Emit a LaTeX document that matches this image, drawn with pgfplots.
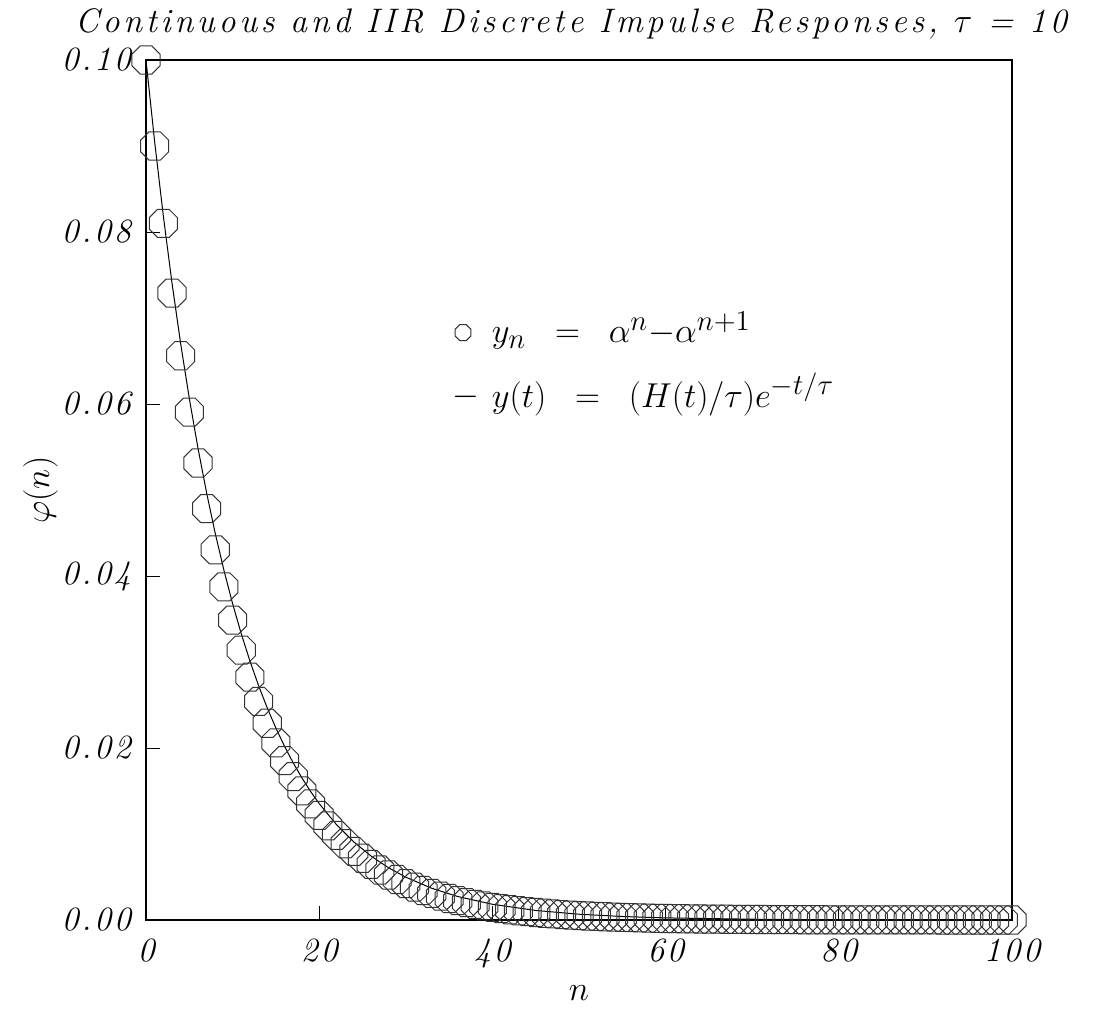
\documentclass[border=0pt]{standalone}
\usepackage{fontspec}
\setmainfont{Latin Modern Roman}
\newfontfamily\tickfont{Latin Modern Roman}[LetterSpace=8]
\newfontfamily\titlefont{Latin Modern Roman}[LetterSpace=11]
\usepackage{pgfplots}
\pgfplotsset{compat=1.18}
\pgfdeclareplotmark{oct}{%
  \pgfpathmoveto{\pgfpointpolar{22.5}{\pgfplotmarksize}}%
  \pgfpathlineto{\pgfpointpolar{67.5}{\pgfplotmarksize}}%
  \pgfpathlineto{\pgfpointpolar{112.5}{\pgfplotmarksize}}%
  \pgfpathlineto{\pgfpointpolar{157.5}{\pgfplotmarksize}}%
  \pgfpathlineto{\pgfpointpolar{202.5}{\pgfplotmarksize}}%
  \pgfpathlineto{\pgfpointpolar{247.5}{\pgfplotmarksize}}%
  \pgfpathlineto{\pgfpointpolar{292.5}{\pgfplotmarksize}}%
  \pgfpathlineto{\pgfpointpolar{337.5}{\pgfplotmarksize}}%
  \pgfpathclose\pgfusepathqstroke}
\pgfplotstableread{
n y
0 0.1
1 0.09
2 0.081
3 0.0729
4 0.06561
5 0.059049
6 0.0531441
7 0.04782969
8 0.043046721
9 0.0387420489
10 0.03486784
11 0.03138106
12 0.02824295
13 0.02541866
14 0.02287679
15 0.02058911
16 0.01853020
17 0.01667718
18 0.01500946
19 0.01350852
20 0.01215767
21 0.01094190
22 0.00984771
23 0.00886294
24 0.00797664
25 0.00717898
26 0.00646108
27 0.00581497
28 0.00523348
29 0.00471013
30 0.00423912
31 0.00381520
32 0.00343368
33 0.00309032
34 0.00278128
35 0.00250316
36 0.00225284
37 0.00202756
38 0.00182480
39 0.00164232
40 0.00147809
41 0.00133028
42 0.00119725
43 0.00107753
44 0.00096977
45 0.00087280
46 0.00078552
47 0.00070697
48 0.00063627
49 0.00057264
50 0.00051538
51 0.00046384
52 0.00041746
53 0.00037571
54 0.00033814
55 0.00030433
56 0.00027389
57 0.00024650
58 0.00022185
59 0.00019967
60 0.00017970
61 0.00016173
62 0.00014556
63 0.00013100
64 0.00011790
65 0.00010611
66 0.00009550
67 0.00008595
68 0.00007736
69 0.00006962
70 0.00006266
71 0.00005639
72 0.00005075
73 0.00004568
74 0.00004111
75 0.00003700
76 0.00003330
77 0.00002997
78 0.00002697
79 0.00002428
80 0.00002185
81 0.00001966
82 0.00001770
83 0.00001593
84 0.00001433
85 0.00001290
86 0.00001161
87 0.00001045
88 0.00000940
89 0.00000846
90 0.00000762
91 0.00000686
92 0.00000617
93 0.00000555
94 0.00000500
95 0.00000450
96 0.00000405
97 0.00000364
98 0.00000328
99 0.00000295
100 0.00000266
}\discrete
\pgfplotstableread{
t y
0 0.1
1 0.0904837
2 0.0818731
3 0.0740818
4 0.0670320
5 0.0606531
6 0.0548812
7 0.0496585
8 0.0449329
9 0.0406570
10 0.0367879
11 0.0332871
12 0.0301194
13 0.0272532
14 0.0246597
15 0.0223130
16 0.0201897
17 0.0182684
18 0.0165299
19 0.0149569
20 0.0135335
22 0.0110803
24 0.0090718
26 0.0074274
28 0.0060810
30 0.0049787
33 0.0036883
36 0.0027324
40 0.0018316
45 0.0011109
50 0.0006738
55 0.0004087
60 0.0002479
70 0.0000912
80 0.0000335
90 0.0000123
100 0.0000045
}\continuous
\begin{document}
\begin{tikzpicture}
\begin{axis}[
  scale only axis,
  width=433pt, height=430pt,
  xmin=0, xmax=100, ymin=0, ymax=0.1,
  xtick={0,20,...,100},
  ytick={0,0.02,...,0.1},
  xtick pos=bottom, ytick pos=left,
  tick align=inside,
  major tick length=7pt,
  minor tick num=0,
  tick style={black, line width=0.5pt},
  axis line style={black, line width=1.2pt},
  /pgf/number format/assume math mode=true,
  scaled y ticks=false,
  yticklabel style={/pgf/number format/fixed, /pgf/number format/fixed zerofill, /pgf/number format/precision=2, font=\fontsize{17}{20}\tickfont\itshape, xshift=-4pt},
  xticklabel style={font=\fontsize{17}{20}\tickfont\itshape, yshift=-6pt},
  xlabel={$n$}, ylabel={$\varphi(n)$},
  label style={font=\fontsize{18}{21}\selectfont},
  xlabel style={yshift=-2pt},
  ylabel style={yshift=-5pt},
  title={\titlefont\itshape Continuous and IIR Discrete Impulse Responses, $\tau$ = 10},
  title style={font=\fontsize{17}{20}\selectfont, yshift=1pt, xshift=-4pt},
  clip=false,
]
\addplot[black, line width=0.5pt] table[x=t, y=y] {\continuous};
\addplot[only marks, mark=oct, mark size=7.6pt, mark options={draw=black!80, line width=0.5pt}] table[x=n, y=y] {\discrete};
\coordinate (ll) at (rel axis cs:0,0);
\coordinate (ur) at (rel axis cs:1,1);
\addplot[only marks, mark=oct, mark size=4.3pt, mark options={draw=black!80, line width=0.5pt}] coordinates {(36.6,0.0683)};
\node[anchor=base west, font=\fontsize{19}{22}\selectfont, inner sep=0pt] at (axis cs:39.9,0.0671) {$y_n\;\;=\;\;\alpha^n{-}\alpha^{n+1}$};
\node[anchor=center, font=\fontsize{19}{22}\selectfont, inner sep=0pt] at (axis cs:37.0,0.0608) {$-$};
\node[anchor=base west, font=\fontsize{19}{22}\selectfont, inner sep=0pt] at (axis cs:39.9,0.0596) {$y(t)\;\;=\;\;(H(t)/\tau)e^{-t/\tau}$};
\end{axis}
\pgfresetboundingbox
\path ([xshift=-73pt,yshift=-46.5pt]ll) rectangle ([xshift=46.5pt,yshift=30pt]ur);
\end{tikzpicture}
\end{document}
